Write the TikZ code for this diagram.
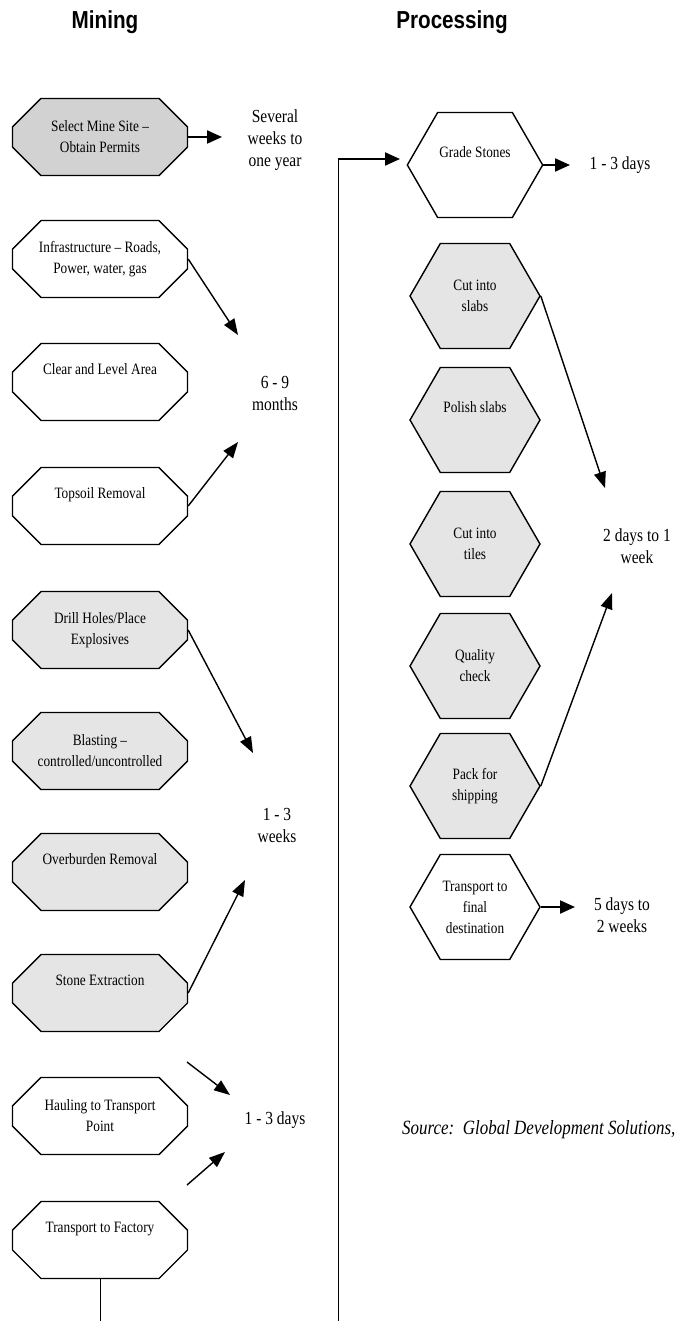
\documentclass[tikz,border=0pt]{standalone}
\usepackage{fontspec}
\setmainfont{Liberation Serif}[FakeStretch=0.84]
\newfontfamily\headfont{Liberation Sans}[FakeStretch=0.84]
\usetikzlibrary{
    arrows.meta,     % Triangle tips
    shapes.misc,     % chamfered rectangle
    shapes.symbols   % signal (hexagon)
}
\tikzset{
    mine/.style={
        chamfered rectangle, chamfered rectangle xsep=3.6mm, chamfered rectangle ysep=2.1mm,
        draw, thick, minimum width=3.5cm, minimum height=1.54cm,
        align=center, font=\fontsize{9}{12}\selectfont, inner sep=1pt
    },
    plant/.style={
        signal, signal to=east and west, signal pointer angle=120,
        draw, thick, minimum width=2.6cm, minimum height=2.1cm,
        align=center, font=\fontsize{9}{12}\selectfont, inner sep=1pt
    },
    shade/.style={fill=gray!20},
    upper/.style={text depth=15pt},
    span/.style={align=center, font=\fontsize{10.5}{12.5}\selectfont},
    head/.style={font=\headfont\bfseries\fontsize{14}{16}\selectfont},
    stub/.style={-{Triangle[length=3mm,width=2.6mm]}, line width=1.2pt},
    lead/.style={-{Triangle[length=3.2mm,width=2.4mm]}, line width=0.8pt}
}

\begin{document}
\begin{tikzpicture}[x=0.02cm, y=-0.02cm]
    \useasboundingbox (0,0) rectangle (674,1321);

    % titulos de columna
    \node[head] (hMine) at (105,22) {Mining};
    \node[head] (hProc) at (452,22) {Processing};

    % mineria
    \node[mine, fill=gray!35] (site) at (100,137) {Select Mine Site --\\Obtain Permits};
    \node[mine] (infra)   at (100,259) {Infrastructure -- Roads,\\Power, water, gas};
    \node[mine, upper] (clear)   at (100,382) {Clear and Level Area};
    \node[mine, upper] (topsoil) at (100,506) {Topsoil Removal};
    \node[mine, shade] (drill)      at (100,630) {Drill Holes/Place\\Explosives};
    \node[mine, shade] (blast)      at (100,751) {Blasting --\\controlled/uncontrolled};
    \node[mine, shade, upper] (overburden) at (100,872) {Overburden Removal};
    \node[mine, shade, upper] (extract)    at (100,993) {Stone Extraction};
    \node[mine] (haul)    at (100,1116) {Hauling to Transport\\Point};
    \node[mine, upper] (factory) at (100,1240) {Transport to Factory};

    % procesamiento
    \node[plant, upper] (grade)          at (475,165) {Grade Stones};
    \node[plant, shade] (slabs)          at (475,296) {Cut into\\slabs};
    \node[plant, shade, upper] (polish)  at (475,420) {Polish slabs};
    \node[plant, shade] (tiles)          at (475,544) {Cut into\\tiles};
    \node[plant, shade] (quality)        at (475,666) {Quality\\check};
    \node[plant, shade] (pack)           at (475,786) {Pack for\\shipping};
    \node[plant] (ship)                  at (475,907) {Transport to\\final\\destination};

    % duraciones
    \node[span] (tSite)  at (275,140)  {Several\\weeks to\\one year};
    \node[span] (tPrep)  at (275,393)  {6 - 9\\months};
    \node[span] (tBlast) at (277,825)  {1 - 3\\weeks};
    \node[span] (tHaul)  at (275,1120) {1 - 3 days};
    \node[span] (tGrade) at (620,165)  {1 - 3 days};
    \node[span] (tCut)   at (637,546)  {2 days to 1\\week};
    \node[span] (tShip)  at (622,915)  {5 days to\\2 weeks};
    \node[span, font=\itshape\fontsize{11.5}{13}\selectfont, anchor=west] (source)
        at (396,1130) {Source:\ \ Global Development Solutions,};

    % puntas de flecha
    \coordinate (siteTip)    at (222,137);
    \coordinate (infraTip)   at (238,335);
    \coordinate (topsoilTip) at (238,442);
    \coordinate (drillTip)   at (253,753);
    \coordinate (extractTip) at (245,880);
    \coordinate (haulFrom)   at (187,1062);
    \coordinate (haulTip)    at (230,1095);
    \coordinate (factFrom)   at (187,1185);
    \coordinate (factTip)    at (225,1152);
    \coordinate (gradeTip)   at (570,165);
    \coordinate (slabsTip)   at (605,488);
    \coordinate (packTip)    at (612,593);
    \coordinate (shipTip)    at (575,907);
    \coordinate (trunkFoot)  at (338,1321);
    \coordinate (trunkTop)   at (338,159);
    \coordinate (gradeIn)    at (400,159);

    \draw[stub] (site.east) -- (siteTip);
    \draw[lead] (infra.east) -- (infraTip);
    \draw[lead] (topsoil.east) -- (topsoilTip);
    \draw[lead] (drill.east) -- (drillTip);
    \draw[lead] (extract.east) -- (extractTip);
    \draw[lead] (haulFrom) -- (haulTip);
    \draw[lead] (factFrom) -- (factTip);
    \draw[stub] (grade.east) -- (gradeTip);
    \draw[lead] (slabs.east) -- (slabsTip);
    \draw[lead] (pack.east) -- (packTip);
    \draw[stub] (ship.east) -- (shipTip);

    % de la mina a la planta
    \draw[thin] (factory.south) -- ++(0,43);
    \draw[thin] (trunkFoot) -- (trunkTop);
    \draw[stub] (trunkTop) -- (gradeIn);
\end{tikzpicture}
\end{document}
